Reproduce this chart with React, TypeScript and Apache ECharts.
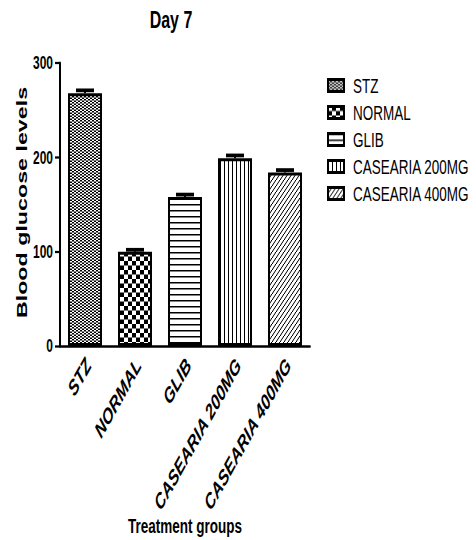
import React, { useEffect, useRef } from 'react';
import * as echarts from 'echarts';

const categories = ['STZ', 'NORMAL', 'GLIB', 'CASEARIA 200MG', 'CASEARIA 400MG'];
const means = [268, 100, 158, 199, 184];
const errors = [3, 2, 2.5, 3, 2.5];
const yTicks = [0, 100, 200, 300];
const chartTitle = 'Day 7';
const yTitle = 'Blood glucose levels';
const xTitle = 'Treatment groups';

const FONT = "'Liberation Sans', Arial, Helvetica, sans-serif";
const SY = 1.5;
const W = 476;
const H = 540 / SY;

function makeTile(w: number, h: number, fn: (x: number, y: number) => boolean) {
  const c = document.createElement('canvas');
  c.width = w;
  c.height = h;
  const ctx = c.getContext('2d')!;
  const img = ctx.createImageData(w, h);
  for (let y = 0; y < h; y++) {
    for (let x = 0; x < w; x++) {
      const k = (y * w + x) * 4;
      const v = fn(x, y) ? 0 : 255;
      img.data[k] = v;
      img.data[k + 1] = v;
      img.data[k + 2] = v;
      img.data[k + 3] = 255;
    }
  }
  ctx.putImageData(img, 0, 0);
  return { image: c, repeat: 'repeat', imageWidth: w, imageHeight: h } as any;
}

export default function App() {
  const ref = useRef<HTMLDivElement>(null);
  useEffect(() => {
    if (!ref.current) return;
    const chart = echarts.init(ref.current, undefined, { renderer: 'svg' });
    const patterns = [
      makeTile(4, 2, (x, y) => ((x >> 1) + y) % 2 === 0),
      makeTile(8, 6, (x, y) => ((x < 4 ? 0 : 1) ^ (y < 3 ? 0 : 1)) === 1),
      makeTile(4, 4, (x, y) => y === 0),
      makeTile(4, 1, (x) => x === 0),
      makeTile(4, 4, (x, y) => (x + y) % 4 === 3),
    ];
    const barSeries = categories.map((name, i) => ({
      type: 'bar',
      name,
      data: categories.map((_, j) => (j === i ? means[i] : '-')),
      barWidth: 34,
      barGap: '-100%',
      itemStyle: { color: patterns[i], borderColor: '#000', borderWidth: 2 },
      emphasis: { disabled: true },
    }));
    chart.setOption({
      animation: false,
      backgroundColor: '#fff',
      grid: { left: 60, right: W - 310, top: 42, bottom: H - 230.67 },
      legend: {
        data: categories,
        orient: 'vertical',
        left: 327,
        top: 49.5,
        padding: 0,
        itemWidth: 16,
        itemHeight: 8,
        itemGap: 3,
        icon: 'rect',
        selectedMode: false,
        textStyle: { fontSize: 13.5, lineHeight: 15, color: '#000', fontFamily: FONT, padding: [0, 0, 0, 4] },
      },
      xAxis: {
        type: 'category',
        data: categories,
        axisLine: { lineStyle: { color: '#000', width: 1.6 } },
        axisTick: { alignWithLabel: true, length: 6, lineStyle: { color: '#000', width: 2 } },
        axisLabel: {
          rotate: 50,
          interval: 0,
          fontSize: 14.5,
          fontWeight: 'bold',
          fontStyle: 'italic',
          fontFamily: FONT,
          color: '#000',
          margin: 14,
          padding: [7, -5, 0, 0],
        },
      },
      yAxis: {
        type: 'value',
        min: yTicks[0],
        max: yTicks[yTicks.length - 1],
        interval: yTicks[1] - yTicks[0],
        axisLine: { show: true, lineStyle: { color: '#000', width: 2 } },
        axisTick: { show: true, length: 5, lineStyle: { color: '#000', width: 1.5 } },
        axisLabel: { fontSize: 12, fontWeight: 'bold', fontFamily: FONT, color: '#000', margin: 7 },
        splitLine: { show: false },
      },
      graphic: [
        {
          type: 'text',
          x: 171,
          y: 13.5,
          style: { text: chartTitle, fontSize: 16, fontWeight: 'bold', fontFamily: FONT, fill: '#000', align: 'center', verticalAlign: 'middle' },
        },
        {
          type: 'text',
          x: 22,
          y: 135,
          rotation: Math.PI / 2,
          style: { text: yTitle, fontSize: 15.5, fontWeight: 'bold', fontFamily: FONT, fill: '#000', align: 'center', verticalAlign: 'middle' },
        },
        {
          type: 'text',
          x: 185,
          y: 350.5,
          style: { text: xTitle, fontSize: 13.5, fontWeight: 'bold', fontFamily: FONT, fill: '#000', align: 'center', verticalAlign: 'middle' },
        },
      ],
      series: [
        ...barSeries,
        {
          type: 'custom',
          z: 10,
          data: means.map((m, i) => [i, m, errors[i]]),
          encode: { x: 0, y: 1 },
          renderItem: (params: any, api: any) => {
            const i = api.value(0);
            const m = api.value(1);
            const e = api.value(2);
            const p0 = api.coord([i, m]);
            const p1 = api.coord([i, m + e]);
            return {
              type: 'group',
              children: [
                { type: 'line', shape: { x1: p0[0], y1: p0[1], x2: p1[0], y2: p1[1] }, style: { stroke: '#000', lineWidth: 2 } },
                { type: 'line', shape: { x1: p1[0] - 9, y1: p1[1], x2: p1[0] + 9, y2: p1[1] }, style: { stroke: '#000', lineWidth: 2.5 } },
              ],
            };
          },
        },
      ],
    } as any);
    return () => chart.dispose();
  }, []);
  return (
    <div
      ref={ref}
      style={{
        position: 'absolute',
        left: 0,
        top: 0,
        width: W,
        height: H,
        transform: `scaleY(${SY})`,
        transformOrigin: '0 0',
      }}
    />
  );
}
